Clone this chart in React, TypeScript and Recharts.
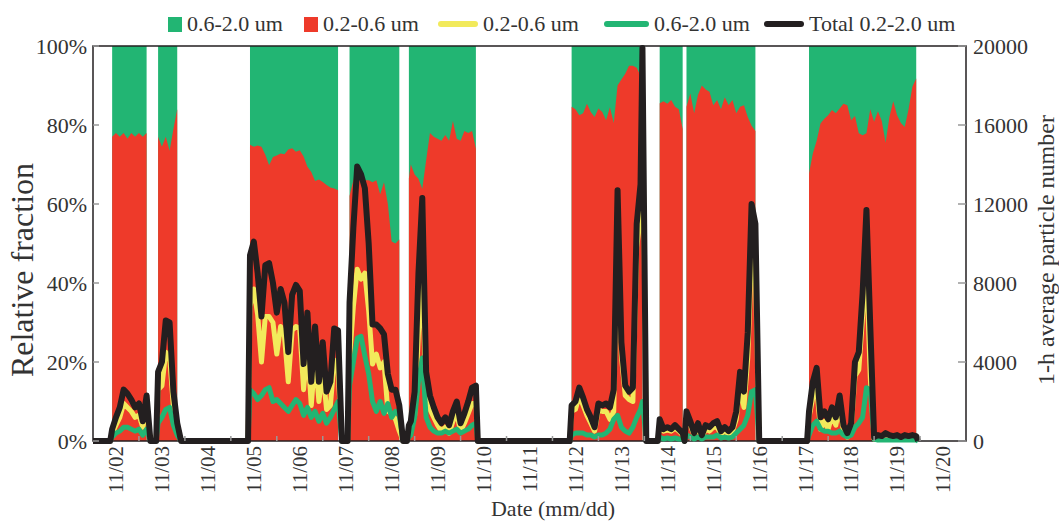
import React from "react";
import { ComposedChart, Area, Line, XAxis, YAxis, ReferenceArea } from "recharts";

// hours since 11/02 00:00
const hours = [
  0, 9,
  10, 12, 14, 16, 18, 20, 22, 24, 26, 28,
  30, 33,
  34, 36, 38, 40, 42, 44,
  46, 81,
  82, 84, 86, 88, 90, 92, 94, 96, 98, 100, 102, 104, 106, 108, 110, 112, 114, 116, 118, 120, 122, 124, 126, 128,
  130, 133,
  134, 136, 138, 140, 142, 144, 146, 148, 150, 152, 154, 156, 158, 160,
  162, 164,
  165, 166, 168, 170, 172, 174, 176, 178, 180, 182, 184, 186, 188, 190, 192, 194, 196, 198, 200,
  201, 249,
  250, 252, 254, 256, 258, 260, 262, 264, 266, 268, 270, 272, 274, 276, 278, 280, 282, 284, 286, 287,
  289, 295,
  296, 298, 300, 302, 304, 306, 308,
  309,
  310, 312, 314, 316, 318, 320, 322, 324, 326, 328, 330, 332, 334, 336, 338, 340, 342, 344, 346,
  348, 373,
  374, 376, 378, 380, 382, 384, 386, 388, 390, 392, 394, 396, 398, 400, 402, 404, 406, 408, 410, 412, 414, 416, 418, 420, 422, 424, 426, 428, 430,
  431,
];

// share of 0.2-0.6 um (%), the rest up to 100% is 0.6-2.0 um; null = no data
const redFraction = [
  null, null,
  77, 78, 77, 78, 76.5, 78, 77, 78, 77, 78,
  null, null,
  77, 74.5, 77, 73.5, 79, 84,
  null, null,
  75, 74.5, 74.8, 74.5, 72.5, 69.8, 71.9, 72.3, 72.8, 72.6, 73.8, 74.1, 73.2, 73.6, 72, 69.4, 68.1, 65.8, 66.2, 65.6, 64.8, 64.2, 63.9, 63.5,
  null, null,
  62, 66, 67.5, 67, 66, 66, 65.5, 66, 62.5, 65.5, 60, 50.5, 50, 51,
  null, null,
  66.5, 70, 67.5, 66.4, 63.8, 71, 78, 77, 76.5, 76, 77.5, 76, 81, 76.5, 76, 78.5, 78, 78.5, 74,
  null, null,
  84.6, 84, 82.5, 83, 85.4, 83.3, 82, 84.2, 83.3, 81.2, 84.5, 80.5, 90, 91.5, 93, 95, 95, 94.5, 92.5, 92,
  null, null,
  85.5, 86, 85.4, 86.3, 84.6, 84, 79,
  null,
  84.6, 88, 83, 87.6, 90, 89, 88.4, 85, 86.3, 84, 87, 85, 86.3, 83, 84.6, 85, 82, 79.8, 78.5,
  null, null,
  67.7, 72.8, 76, 80.4, 81.6, 82.5, 83.8, 83, 84.2, 85.4, 85, 81.2, 82.3, 77.9, 77.4, 77.9, 84, 80.8, 83.5, 81, 75.5, 82, 86, 82.5, 80.5, 79.5, 84, 89.7, 91.8,
  null,
];

const totalCount = [
  0, 0,
  600, 1200, 1700, 2600, 2400, 2100, 1700, 1900, 1000, 2300,
  0, 0,
  3500, 4000, 6100, 6000, 2500, 900,
  0, 0,
  9400, 10100, 8500, 6300, 8900, 9000, 8000, 6500, 7700, 7000, 4500, 7400, 7900, 7600, 3900, 6500, 3000, 5800, 3000, 5000, 2500, 3000, 5700, 5600,
  0, 0,
  7000, 10800, 13900, 13500, 12800, 10000, 5900, 5900, 5700, 5400, 3400, 2600, 2600, 1800,
  0, 0,
  800, 1000, 2500, 8500, 12300, 3500, 2300, 1700, 1200, 900, 1200, 800, 1500, 2000, 900, 1400, 2000, 2700, 2800,
  0, 0,
  1800, 2000, 2700, 2200, 1600, 1200, 700, 1900, 1800, 1900, 1700, 2600, 12700, 5000, 2800, 2500, 2700, 11000, 13000, 19900,
  0, 0,
  1100, 600, 700, 600, 800, 600, 400,
  0,
  1500, 1000, 400, 900, 300, 800, 700, 900, 1000, 500, 700, 500, 700, 1500, 3500, 2500, 5500, 12000, 11000,
  0, 0,
  1500, 3000, 3700, 1200, 1500, 1100, 1700, 1200, 2300, 800, 400, 900, 4000, 4500, 7500, 11700, 5800, 200, 300, 250, 400, 300, 250, 300, 200, 300, 250, 300, 250,
  0,
];

const smallCount = [
  0, 0,
  400, 800, 1200, 1900, 1700, 1500, 1200, 1300, 700, 1700,
  0, 0,
  2600, 2800, 4500, 4300, 1700, 600,
  0, 0,
  6800, 7700, 6400, 4000, 6300, 6300, 6000, 4400, 5800, 5300, 3000, 5600, 5800, 5700, 2600, 4800, 1800, 4300, 2000, 3600, 1600, 1800, 4100, 3600,
  0, 0,
  4200, 6800, 8700, 8200, 8500, 6600, 3900, 4400, 3700, 4000, 1500, 1400, 1100, 500,
  0, 0,
  600, 700, 1300, 5500, 8100, 2300, 1600, 1200, 800, 500, 700, 400, 1000, 1400, 500, 900, 1400, 1900, 1900,
  0, 0,
  1500, 1600, 2300, 1800, 1300, 900, 500, 1600, 1500, 1500, 1100, 1500, 11400, 4300, 2300, 2100, 2000, 9800, 11400, 17900,
  0, 0,
  900, 500, 550, 500, 650, 500, 300,
  0,
  1200, 800, 300, 700, 200, 600, 500, 700, 700, 350, 500, 350, 500, 1100, 2900, 1700, 4200, 9500, 8400,
  0, 0,
  1200, 2200, 2700, 600, 1000, 600, 1300, 800, 1800, 500, 200, 600, 3300, 3600, 6300, 9000, 3200, 100, 250, 200, 350, 250, 200, 250, 150, 250, 200, 250, 200,
  0,
];

const largeCount = [
  0, 0,
  200, 400, 500, 700, 700, 600, 500, 600, 300, 600,
  0, 0,
  900, 1200, 1600, 1700, 800, 300,
  0, 0,
  2600, 2400, 2100, 2300, 2600, 2700, 2000, 2100, 1900, 1700, 1500, 1800, 2100, 1900, 1300, 1700, 1200, 1500, 1000, 1400, 900, 1200, 1600, 2000,
  0, 0,
  2800, 4000, 5200, 5300, 4300, 3400, 2000, 1500, 2000, 1400, 1900, 1200, 1500, 1300,
  0, 0,
  200, 300, 1200, 3000, 4200, 1200, 700, 500, 400, 400, 500, 400, 500, 600, 400, 500, 600, 800, 900,
  0, 0,
  300, 400, 400, 400, 300, 300, 200, 300, 300, 400, 600, 1100, 1300, 700, 500, 400, 700, 1200, 1600, 2000,
  0, 0,
  200, 100, 150, 100, 150, 100, 100,
  0,
  300, 200, 100, 200, 100, 200, 200, 200, 300, 150, 200, 150, 200, 400, 600, 800, 1300, 2500, 2600,
  0, 0,
  300, 800, 1000, 600, 500, 500, 400, 400, 500, 300, 200, 300, 700, 900, 1200, 2700, 2600, 100, 50, 50, 50, 50, 50, 50, 50, 50, 50, 50, 50,
  0,
];

const dayLabels = [
  "11/02", "11/03", "11/04", "11/05", "11/06", "11/07", "11/08", "11/09", "11/10", "11/11",
  "11/12", "11/13", "11/14", "11/15", "11/16", "11/17", "11/18", "11/19", "11/20",
];
const leftTicks = [0, 20, 40, 60, 80, 100];
const rightTicks = [0, 4000, 8000, 12000, 16000, 20000];

const GREEN = "#22b573";
const RED = "#ee3a2a";
const YELLOW = "#f2ea5b";
const BLACK = "#231f20";
const FONT = '"Liberation Serif", "DejaVu Serif", serif';
const TEXT = "#333";

const legendItems = [
  { label: "0.6-2.0 um", color: GREEN, kind: "box" },
  { label: "0.2-0.6 um", color: RED, kind: "box" },
  { label: "0.2-0.6 um", color: YELLOW, kind: "line" },
  { label: "0.6-2.0 um", color: GREEN, kind: "line" },
  { label: "Total 0.2-2.0 um", color: BLACK, kind: "line" },
];

const rows = hours.map((h, i) => ({
  h,
  red: redFraction[i],
  full: redFraction[i] === null ? null : 100,
  total: totalCount[i],
  small: smallCount[i],
  large: largeCount[i],
}));

// labels at noon, tick marks at midnight
const xTicks = [
  ...dayLabels.map((_, i) => 12 + 24 * i),
  ...dayLabels.slice(1).map((_, i) => 24 * (i + 1)),
];

const XTick = (props: any) => {
  const { x, y, payload } = props;
  const v = payload.value;
  if (v % 24 === 0) {
    return <line x1={x} x2={x} y1={y} y2={y - 5} stroke="#999" strokeWidth={1.5} />;
  }
  const label = dayLabels[(v - 12) / 24];
  return (
    <text
      x={x}
      y={y + 5}
      transform={`rotate(-90, ${x}, ${y + 5})`}
      textAnchor="end"
      dy="0.35em"
      fontSize={21}
      fontFamily={FONT}
      fill={TEXT}
    >
      {label}
    </text>
  );
};

const LeftTick = (props: any) => {
  const { x, y, payload } = props;
  return (
    <g>
      <line x1={x} x2={x + 6} y1={y} y2={y} stroke="#999" strokeWidth={1.5} />
      <text x={x - 6} y={y} dy="0.35em" textAnchor="end" fontSize={22} fontFamily={FONT} fill={TEXT}>
        {payload.value}%
      </text>
    </g>
  );
};

const RightTick = (props: any) => {
  const { x, y, payload } = props;
  return (
    <g>
      <line x1={x} x2={x - 8} y1={y} y2={y} stroke="#999" strokeWidth={1.5} />
      <text x={x + 7} y={y} dy="0.35em" textAnchor="start" fontSize={22} fontFamily={FONT} fill={TEXT}>
        {payload.value}
      </text>
    </g>
  );
};

const legendLeft = [168, 304, 438, 604, 764];

function Legend() {
  return (
    <>
      {legendItems.map((it, i) => (
        <div
          key={i}
          style={{
            position: "absolute",
            left: legendLeft[i],
            top: 12,
            height: 24,
            display: "flex",
            alignItems: "center",
            fontFamily: FONT,
            fontSize: 22,
            color: TEXT,
            whiteSpace: "nowrap",
          }}
        >
          {it.kind === "box" ? (
            <span style={{ width: 14, height: 15, background: it.color, marginRight: 5 }} />
          ) : (
            <span
              style={{
                width: i === 3 ? 45 : 40,
                height: 6,
                borderRadius: 3,
                background: it.color,
                marginRight: 5,
              }}
            />
          )}
          <span>{it.label}</span>
        </div>
      ))}
    </>
  );
}

export default function App() {
  return (
    <div style={{ position: "absolute", left: 0, top: 0, width: 1059, height: 521, background: "#fff" }}>
      <ComposedChart width={1059} height={521} data={rows} margin={{ top: 46, right: 0, bottom: 0, left: 0 }}>
        <XAxis
          dataKey="h"
          type="number"
          domain={[0, 456]}
          ticks={xTicks}
          interval={0}
          tick={XTick}
          tickLine={false}
          axisLine={false}
          tickSize={0}
          tickMargin={0}
          height={80}
        />
        <YAxis
          yAxisId="left"
          orientation="left"
          domain={[0, 100]}
          ticks={leftTicks}
          interval={0}
          tick={LeftTick}
          tickLine={false}
          axisLine={false}
          tickSize={0}
          tickMargin={0}
          width={93}
        />
        <YAxis
          yAxisId="right"
          orientation="right"
          domain={[0, 20000]}
          ticks={rightTicks}
          interval={0}
          tick={RightTick}
          tickLine={false}
          axisLine={false}
          tickSize={0}
          tickMargin={0}
          width={93}
        />
        <Area
          yAxisId="left"
          dataKey="full"
          type="linear"
          fill={GREEN}
          fillOpacity={1}
          stroke="none"
          connectNulls={false}
          dot={false}
          activeDot={false}
          isAnimationActive={false}
        />
        <Area
          yAxisId="left"
          dataKey="red"
          type="linear"
          fill={RED}
          fillOpacity={1}
          stroke="none"
          connectNulls={false}
          dot={false}
          activeDot={false}
          isAnimationActive={false}
        />
        <ReferenceArea
          yAxisId="left"
          x1={0}
          x2={456}
          y1={0}
          y2={100}
          fill="none"
          stroke={BLACK}
          strokeWidth={1.5}
          ifOverflow="visible"
        />
        <Line
          yAxisId="right"
          dataKey="small"
          type="linear"
          stroke={YELLOW}
          strokeWidth={5}
          strokeLinejoin="round"
          dot={false}
          activeDot={false}
          isAnimationActive={false}
        />
        <Line
          yAxisId="right"
          dataKey="large"
          type="linear"
          stroke={GREEN}
          strokeWidth={5}
          strokeLinejoin="round"
          dot={false}
          activeDot={false}
          isAnimationActive={false}
        />
        <Line
          yAxisId="right"
          dataKey="total"
          type="linear"
          stroke={BLACK}
          strokeWidth={6}
          strokeLinejoin="round"
          dot={false}
          activeDot={false}
          isAnimationActive={false}
        />
      </ComposedChart>
      <Legend />
      <div
        style={{
          position: "absolute",
          left: 553,
          top: 509,
          transform: "translate(-50%, -50%)",
          fontFamily: FONT,
          fontSize: 22,
          color: TEXT,
          whiteSpace: "nowrap",
          lineHeight: 1,
        }}
      >
        Date (mm/dd)
      </div>
      <div
        style={{
          position: "absolute",
          left: 22,
          top: 270,
          transform: "translate(-50%, -50%) rotate(-90deg)",
          fontFamily: FONT,
          fontSize: 32,
          color: TEXT,
          whiteSpace: "nowrap",
          lineHeight: 1,
        }}
      >
        Relative fraction
      </div>
      <div
        style={{
          position: "absolute",
          left: 1046,
          top: 250,
          transform: "translate(-50%, -50%) rotate(-90deg)",
          fontFamily: FONT,
          fontSize: 24,
          color: TEXT,
          whiteSpace: "nowrap",
          lineHeight: 1,
        }}
      >
        1-h average particle number
      </div>
    </div>
  );
}
